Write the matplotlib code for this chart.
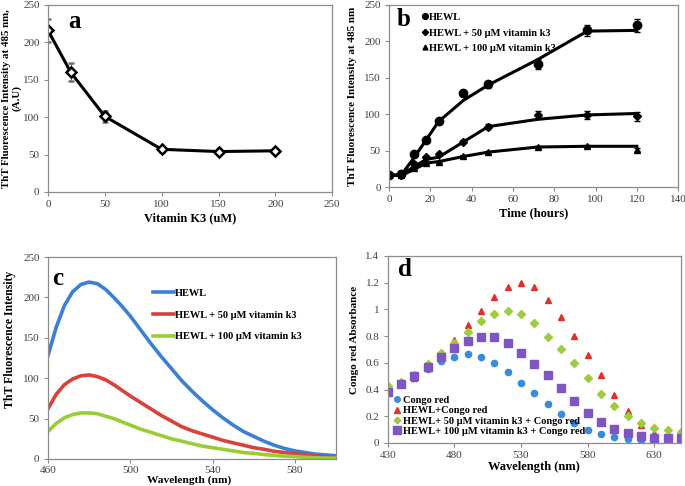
import numpy as np
import matplotlib
matplotlib.use("Agg")
import matplotlib.pyplot as plt
from matplotlib.ticker import FuncFormatter

plt.rcParams['font.family'] = ['Liberation Serif', 'DejaVu Serif']

# ---- panel a : ThT vs vitamin K3 concentration
conc = [0, 20, 50, 100, 150, 200]
tht_conc = [216, 160, 101, 57, 54, 55]
tht_conc_err = [15, 12, 7, 3, 3, 3]

# ---- panel b : kinetics
hours = [0, 6, 12, 18, 24, 36, 48, 72, 96, 120]
hewl_pts = [16, 18, 46, 65, 90, 129, 141, 169, 215, 222]
hewl_line = [16, 17, 40, 65, 90, 119, 140, 175, 214, 215]
hewl_err = [2, 2, 3, 3, 3, 3, 5, 7, 8, 9]
k50_pts = [16, 17, 32, 41, 45, 62, 83, 99, 99, 97]
k50_line = [16, 17, 28, 38, 41, 62, 83, 93, 99, 101]
k50_err = [1, 1, 2, 2, 2, 2, 3, 5, 5, 6]
k100_pts = [16, 16, 26, 33, 34, 43, 48, 55, 56, 51]
k100_line = [16, 16, 24, 33, 35, 42, 48, 55, 56, 56]
k100_err = [1, 1, 1, 1, 1, 1, 2, 2, 2, 2]

# ---- panel c : ThT emission spectra
wl_c = [460, 464, 468, 472, 476, 480, 484, 488, 492, 496, 500, 505, 510, 515, 520,
        525, 530, 535, 540, 545, 550, 555, 560, 565, 570, 575, 580, 585, 590, 595, 600]
spec_hewl = [128, 163, 190, 207, 216, 219, 217, 210, 200, 189, 177, 160, 143, 127, 112,
             97, 84, 72, 61, 51, 42, 34, 28, 22, 17, 13, 10, 8, 6, 5, 4]
spec_k50 = [62, 80, 92, 99, 103, 104, 102, 98, 92, 85, 78, 70, 62, 54, 47,
            40, 35, 31, 27, 23, 20, 17, 14, 12, 9.5, 8, 6.5, 5, 3.5, 2.5, 2]
spec_k100 = [34, 44, 51, 55, 57, 57, 56, 53, 50, 46, 42, 37, 33, 29, 25,
             22, 19, 16, 14, 12, 10, 8, 7, 5.5, 4.5, 3.5, 3, 2, 1.5, 1.2, 1]

# ---- panel d : Congo red absorbance
wl_d = [430, 440, 450, 460, 470, 480, 490, 500, 510, 520, 530, 540,
        550, 560, 570, 580, 590, 600, 610, 620, 630, 640, 650]
cr = [0.40, 0.45, 0.50, 0.553, 0.61, 0.645, 0.665, 0.645, 0.598, 0.53, 0.446, 0.376,
      0.294, 0.219, 0.149, 0.10, 0.066, 0.042, 0.03, 0.024, 0.02, 0.016, 0.014]
cr_hewl = [0.42, 0.46, 0.49, 0.56, 0.66, 0.77, 0.88, 0.99, 1.09, 1.17, 1.20, 1.17,
           1.07, 0.945, 0.80, 0.66, 0.51, 0.36, 0.236, 0.137, 0.075, 0.04, 0.01]
cr_k50 = [0.423, 0.46, 0.51, 0.59, 0.67, 0.75, 0.83, 0.91, 0.965, 0.99, 0.965, 0.895,
          0.795, 0.705, 0.60, 0.485, 0.37, 0.279, 0.199, 0.149, 0.112, 0.094, 0.082]
cr_k100 = [0.38, 0.44, 0.50, 0.57, 0.64, 0.71, 0.76, 0.795, 0.79, 0.745, 0.675, 0.59,
           0.505, 0.41, 0.315, 0.224, 0.157, 0.105, 0.072, 0.05, 0.04, 0.035, 0.037]

TICK = '#404040'
FRAME = '#8c8c8c'


def style_axes(ax):
    for s in ax.spines.values():
        s.set_color(FRAME)
        s.set_linewidth(0.9)
    ax.tick_params(direction='out', length=3, width=0.8, color=FRAME,
                   labelsize=8, labelcolor=TICK, pad=3)


fig = plt.figure(figsize=(6.85, 4.86), dpi=100)

# panel a
ax = fig.add_axes([0.070, 0.605, 0.415, 0.385])
ax.errorbar(conc, tht_conc, yerr=tht_conc_err, color='black', lw=2.2,
            marker='D', markersize=5.5, mfc='white', mec='black', mew=1.8,
            ecolor='#707070', elinewidth=0.8, capsize=2)
ax.set_xlim(0, 250)
ax.set_ylim(0, 250)
ax.set_xticks(range(0, 251, 50))
ax.set_yticks(range(0, 251, 50))
ax.set_xlabel('Vitamin K3 (uM)', fontsize=9, fontweight='bold', va='center')
ax.xaxis.set_label_coords(0.5, -0.139)
ax.set_ylabel('ThT Fluorescence Intensity at 485 nm,\n(A.U)', fontsize=7.8,
              fontweight='bold', linespacing=1.05, va='center')
ax.yaxis.set_label_coords(-0.128, 0.5)
ax.text(0.07, 0.975, 'a', transform=ax.transAxes, fontsize=18, fontweight='bold',
        va='top')
style_axes(ax)

# panel b
ax = fig.add_axes([0.568, 0.615, 0.422, 0.375])
ax.plot(hours, hewl_line, color='black', lw=2.2)
ax.plot(hours, k50_line, color='black', lw=2.2)
ax.plot(hours, k100_line, color='black', lw=2.2)
ax.errorbar(hours, hewl_pts, yerr=hewl_err, fmt='o', color='black', ms=6,
            elinewidth=0.8, capsize=2, label='HEWL')
ax.errorbar(hours, k50_pts, yerr=k50_err, fmt='D', color='black', ms=4.5,
            elinewidth=0.8, capsize=2, label='HEWL + 50 µM vitamin k3')
ax.errorbar(hours, k100_pts, yerr=k100_err, fmt='^', color='black', ms=5,
            elinewidth=0.8, capsize=2, label='HEWL + 100 µM vitamin k3')
ax.set_xlim(0, 140)
ax.set_ylim(0, 250)
ax.set_xticks(range(0, 141, 20))
ax.set_yticks(range(0, 251, 50))
ax.set_xlabel('Time (hours)', fontsize=9, fontweight='bold', va='center')
ax.xaxis.set_label_coords(0.5, -0.143)
ax.set_ylabel('ThT Fluorescence Intensity at 485 nm', fontsize=8,
              fontweight='bold', va='center')
ax.yaxis.set_label_coords(-0.125, 0.5)
ax.text(0.025, 0.985, 'b', transform=ax.transAxes, fontsize=18, fontweight='bold',
        va='top')
handles, labels = ax.get_legend_handles_labels()
hs = [h[0] for h in handles]
ax.legend(hs, labels, loc='upper left', bbox_to_anchor=(0.085, 1.0),
          frameon=False, handlelength=0.6, handletextpad=0.15,
          labelspacing=0.6, markerscale=0.7, borderaxespad=0.35,
          prop={'size': 7.5, 'weight': 'bold'})
style_axes(ax)

# panel c
ax = fig.add_axes([0.070, 0.0556, 0.4205, 0.4155])
ax.plot(wl_c, spec_hewl, color='#3C7FD5', lw=2.6, label='HEWL')
ax.plot(wl_c, spec_k50, color='#D8423B', lw=2.6, label='HEWL + 50 µM vitamin k3')
ax.plot(wl_c, spec_k100, color='#9ACC35', lw=2.6, label='HEWL + 100 µM vitamin k3')
ax.set_xlim(460, 600)
ax.set_ylim(0, 250)
ax.set_xticks([460, 500, 540, 580])
ax.set_yticks(range(0, 251, 50))
ax.set_xlabel('Wavelength (nm)', fontsize=8.2, fontweight='bold', va='baseline')
ax.xaxis.set_label_coords(0.49, -0.119)
ax.set_ylabel('ThT Fluorescence Intensity', fontsize=8.5, fontweight='bold',
              va='center')
ax.yaxis.set_label_coords(-0.132, 0.59)
ax.text(0.015, 0.95, 'c', transform=ax.transAxes, fontsize=18, fontweight='bold',
        va='top')
ax.legend(loc='upper left', bbox_to_anchor=(0.35, 0.865), frameon=False,
          handlelength=2.0, handletextpad=0.1, labelspacing=1.2,
          borderaxespad=0.0, prop={'size': 7.5, 'weight': 'bold'})
style_axes(ax)
ax.tick_params(axis='x', pad=2)

# panel d
ax = fig.add_axes([0.566, 0.0885, 0.428, 0.385])
ax.plot(wl_d, cr, 'o', color='#3A8BDC', ms=4.5, label='Congo red')
ax.plot(wl_d, cr_hewl, '^', color='#E0302A', ms=5, label='HEWL+Congo red')
ax.plot(wl_d, cr_k50, 'D', color='#9DCC3C', ms=3.8,
        label='HEWL+ 50 µM vitamin k3 + Congo red')
ax.plot(wl_d, cr_k100, 's', color='#7E55C3', ms=6,
        label='HEWL+ 100 µM vitamin k3 + Congo red')
ax.set_xlim(430, 650)
ax.set_ylim(0, 1.4)
ax.set_xticks([430, 480, 530, 580, 630])
ax.set_yticks(np.arange(0, 1.41, 0.2))
ax.yaxis.set_major_formatter(FuncFormatter(lambda v, p: ('%.1f' % v).rstrip('0').rstrip('.')))
ax.set_xlabel('Wavelength (nm)', fontsize=9, fontweight='bold', va='center')
ax.xaxis.set_label_coords(0.5, -0.128)
ax.set_ylabel('Congo red Absorbance', fontsize=8, fontweight='bold', va='center')
ax.yaxis.set_label_coords(-0.113, 0.55)
ax.text(0.035, 0.99, 'd', transform=ax.transAxes, fontsize=18, fontweight='bold',
        va='top')
ax.legend(loc='upper left', bbox_to_anchor=(0.005, 0.275), frameon=False,
          handlelength=0.7, handletextpad=0.2, labelspacing=0.1,
          borderaxespad=0.0, markerscale=0.9, prop={'size': 7.5, 'weight': 'bold'})
style_axes(ax)

fig.savefig('out.png', dpi=100)
